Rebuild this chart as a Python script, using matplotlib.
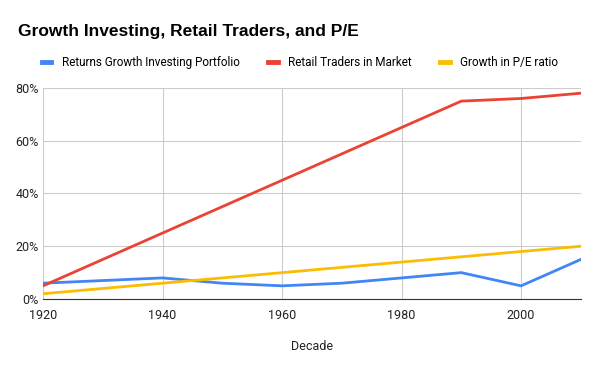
import numpy as np
from matplotlib import pyplot as plt
from matplotlib.ticker import PercentFormatter

plt.rcParams['font.family'] = ['Roboto', 'DejaVu Sans']

decades = [1920, 1930, 1940, 1950, 1960, 1970, 1980, 1990, 2000, 2010]
returns_growth = [6, 7, 8, 6, 5, 6, 8, 10, 5, 15]
retail_traders = [5, 15, 25, 35, 45, 55, 65, 75, 76, 78]
pe_growth = [2, 4, 6, 8, 10, 12, 14, 16, 18, 20]

labels = ['Returns Growth Investing Portfolio', 'Retail Traders in Market', 'Growth in P/E ratio']
colors = ['#4285F4', '#EA4335', '#FBBC04']

fig = plt.figure(figsize=(6, 3.71), dpi=100)
ax = fig.add_axes([0.0717, 0.194, 0.8963, 0.569])

for ys, lab, c in zip([returns_growth, retail_traders, pe_growth], labels, colors):
    ax.plot(decades, ys, color=c, lw=2, label=lab)

ax.set_xlim(1920, 2010)
ax.set_ylim(0, 80)
ax.set_xticks(np.arange(1920, 2011, 20))
ax.set_yticks(np.arange(0, 81, 20))
ax.yaxis.set_major_formatter(PercentFormatter(decimals=0))
ax.grid(True, color='#cccccc', lw=0.8)
ax.set_axisbelow(True)
for s in ['top', 'right', 'left']:
    ax.spines[s].set_visible(False)
ax.spines['bottom'].set_color('#333333')
ax.tick_params(length=0, labelsize=9, colors='#222222')
ax.tick_params(axis='x', pad=7)
ax.tick_params(axis='y', pad=3)
ax.set_xlabel('Decade', fontsize=9, color='#222222', labelpad=13)

fig.text(0.03, 0.915, 'Growth Investing, Retail Traders, and P/E', fontsize=12.5,
         fontweight='bold', va='center', family=['Liberation Sans', 'DejaVu Sans'])
leg = fig.legend(loc='center', bbox_to_anchor=(0.5, 0.831), ncol=3, frameon=False,
                 fontsize=8.5, handlelength=0.8, handletextpad=0.9, columnspacing=2.4)
for h in leg.legend_handles:
    h.set_linewidth(3.5)

fig.savefig('out.png', dpi=100)
